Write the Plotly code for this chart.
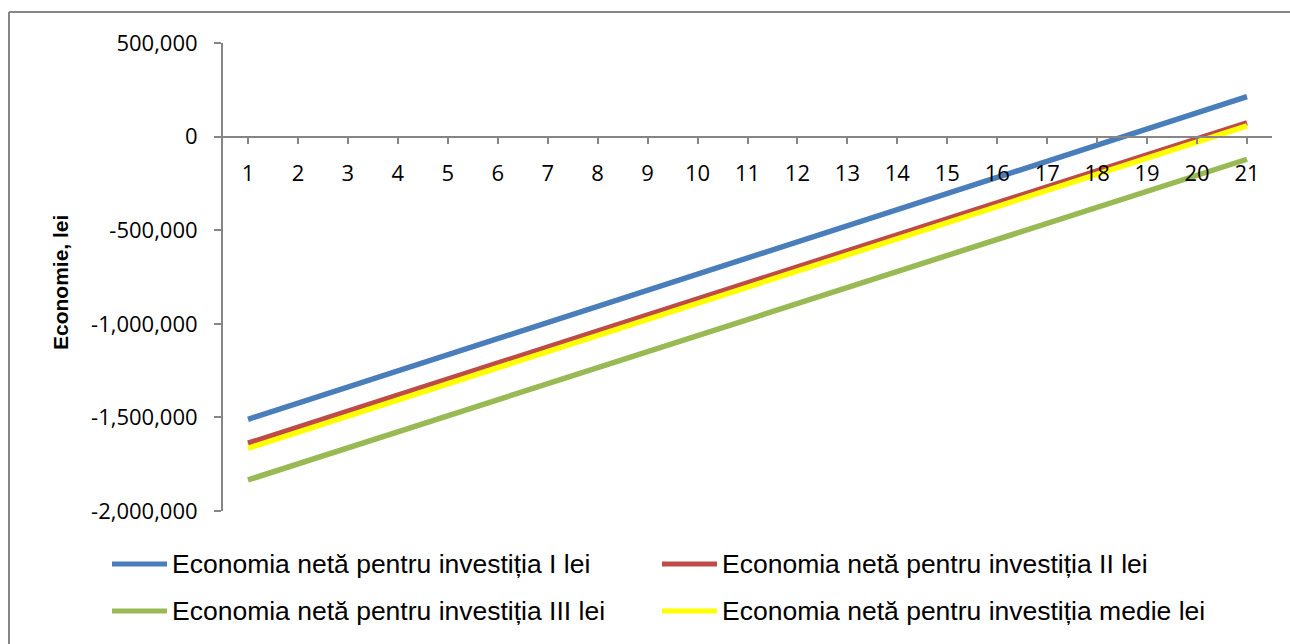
import plotly.graph_objects as go

# Years of operation
years = list(range(1, 22))

# Net savings (lei) for each investment option
economie_I = [-1510000, -1423850, -1337700, -1251550, -1165400, -1079250, -993100,
              -906950, -820800, -734650, -648500, -562350, -476200, -390050,
              -303900, -217750, -131600, -45450, 40700, 126850, 213000]
economie_II = [-1638000, -1552400, -1466800, -1381200, -1295600, -1210000, -1124400,
               -1038800, -953200, -867600, -782000, -696400, -610800, -525200,
               -439600, -354000, -268400, -182800, -97200, -11600, 74000]
economie_III = [-1834000, -1748350, -1662700, -1577050, -1491400, -1405750, -1320100,
                -1234450, -1148800, -1063150, -977500, -891850, -806200, -720550,
                -634900, -549250, -463600, -377950, -292300, -206650, -121000]
economie_medie = [-1665000, -1578900, -1492800, -1406700, -1320600, -1234500, -1148400,
                  -1062300, -976200, -890100, -804000, -717900, -631800, -545700,
                  -459600, -373500, -287400, -201300, -115200, -29100, 57000]

series_names = [
    "Economia netă pentru investiția I lei",
    "Economia netă pentru investiția II lei",
    "Economia netă pentru investiția III lei",
    "Economia netă pentru investiția medie lei",
]

y_tick_values = [500000, 0, -500000, -1000000, -1500000, -2000000]
y_tick_labels = ["500,000", "0", "-500,000", "-1,000,000", "-1,500,000", "-2,000,000"]
y_title = "Economie, lei"

colors = ["#4A7EBB", "#BE4B48", "#98B954", "#FFFF00"]

W, H = 1290, 644
L, R, T, B = 223, 18, 43, 133
PW, PH = W - L - R, H - T - B


def px_x(x):
    return (x - L) / PW


def px_y(y):
    return (H - B - y) / PH


AXIS = "#868686"

fig = go.Figure()
for name, vals, col in zip(series_names,
                           [economie_I, economie_II, economie_III, economie_medie],
                           colors):
    fig.add_trace(go.Scatter(
        x=years, y=vals, mode="lines", name=name,
        line=dict(color=col, width=5.5), showlegend=False,
    ))

fig.update_layout(
    width=W, height=H,
    margin=dict(l=L, r=R, t=T, b=B, pad=0),
    paper_bgcolor="white", plot_bgcolor="white",
    font=dict(family="Open Sans", size=22, color="#000000"),
    xaxis=dict(
        range=[0.5, 21.5], tickvals=years, ticktext=[str(v) for v in years],
        anchor="free", position=0.8,
        showline=True, linecolor=AXIS, linewidth=2,
        ticks="outside", ticklen=6, tickwidth=2, tickcolor=AXIS,
        ticklabelstandoff=11,
        showgrid=False, zeroline=False,
        tickfont=dict(family="Open Sans", size=22),
    ),
    yaxis=dict(
        range=[-2000000, 500000], tickvals=y_tick_values, ticktext=y_tick_labels,
        showline=True, linecolor=AXIS, linewidth=2,
        ticks="outside", ticklen=7, tickwidth=2, tickcolor=AXIS,
        ticklabelstandoff=12,
        showgrid=False, zeroline=False,
        tickfont=dict(family="Open Sans", size=22),
    ),
)

# y-axis title
fig.add_annotation(
    x=px_x(60), y=px_y(283), xref="paper", yref="paper",
    text=f"<b>{y_title}</b>", textangle=-90, showarrow=False,
    font=dict(family="Liberation Sans", size=21, color="#000000"),
    xanchor="center", yanchor="middle",
)

# chart-area frame (left and top edges)
fig.add_shape(type="line", xref="paper", yref="paper",
              x0=px_x(9), x1=px_x(9), y0=px_y(12), y1=px_y(660),
              line=dict(color=AXIS, width=2))
fig.add_shape(type="line", xref="paper", yref="paper",
              x0=px_x(9), x1=px_x(1300), y0=px_y(12), y1=px_y(12),
              line=dict(color=AXIS, width=2))

# legend: two columns, two rows
legend_pos = [(112, 564), (662, 564), (112, 611), (662, 611)]
for (lx, ly), name, col in zip(legend_pos, series_names, colors):
    fig.add_shape(type="line", xref="paper", yref="paper",
                  x0=px_x(lx), x1=px_x(lx + 55), y0=px_y(ly), y1=px_y(ly),
                  line=dict(color=col, width=5))
    fig.add_annotation(
        x=px_x(lx + 58), y=px_y(ly), xref="paper", yref="paper",
        text=name, showarrow=False, xanchor="left", yanchor="middle",
        font=dict(family="Liberation Sans", size=26.5, color="#000000"),
    )

fig.write_html("out.html")
